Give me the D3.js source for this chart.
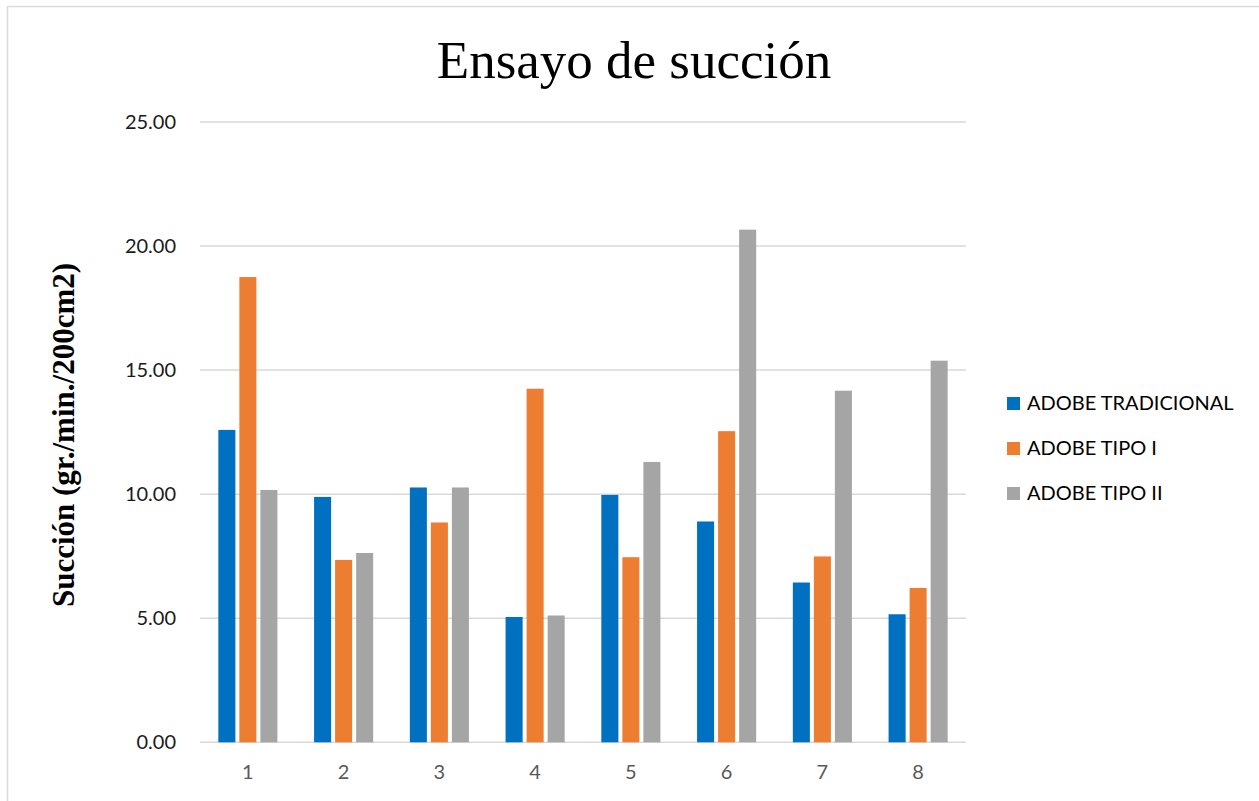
<!DOCTYPE html>
<html>
<head>
<meta charset="utf-8">
<script src="https://cdn.jsdelivr.net/npm/d3@7"></script>
<style>
  html, body { margin: 0; padding: 0; background: #fff; }
  svg { display: block; }
</style>
</head>
<body>
<svg id="chart" width="1259" height="801"></svg>
<script>
// Suction test results (gr./min./200cm2) per specimen
const categories = ["1", "2", "3", "4", "5", "6", "7", "8"];
const seriesNames = ["ADOBE TRADICIONAL", "ADOBE TIPO I", "ADOBE TIPO II"];
const adobeTradicional = [12.59, 9.89, 10.27, 5.05, 9.97, 8.90, 6.44, 5.16];
const adobeTipoI       = [18.75, 7.35, 8.86, 14.25, 7.46, 12.54, 7.49, 6.22];
const adobeTipoII      = [10.17, 7.63, 10.27, 5.11, 11.30, 20.66, 14.17, 15.38];
const yTicks = [0, 5, 10, 15, 20, 25];
const colors = ["#0070C0", "#ED7D31", "#A5A5A5"];

const seriesValues = [adobeTradicional, adobeTipoI, adobeTipoII];

const svg = d3.select("#chart");
const W = 1259, H = 801;

// chart frame
svg.append("rect")
  .attr("x", 7.5).attr("y", 6.5)
  .attr("width", W + 10).attr("height", H + 10)
  .attr("fill", "#fff")
  .attr("stroke", "#d9d9d9").attr("stroke-width", 1.5);

const plot = { left: 200, right: 966, top: 122, bottom: 742.3 };

const x = d3.scaleBand()
  .domain(categories)
  .range([plot.left, plot.right])
  .paddingInner(0.383)
  .paddingOuter(0.1915);

const xInner = d3.scaleBand()
  .domain(d3.range(seriesNames.length))
  .range([0, x.bandwidth()])
  .paddingInner(0.19)
  .paddingOuter(0);

const y = d3.scaleLinear()
  .domain([0, 25])
  .range([plot.bottom, plot.top]);

// horizontal gridlines
svg.append("g")
  .selectAll("line")
  .data(yTicks)
  .join("line")
  .attr("x1", plot.left).attr("x2", plot.right)
  .attr("y1", d => y(d)).attr("y2", d => y(d))
  .attr("stroke", "#d9d9d9").attr("stroke-width", 1.5);

// y axis labels
const yAxis = d3.axisLeft(y)
  .tickValues(yTicks)
  .tickFormat(d3.format(".2f"))
  .tickSize(0)
  .tickPadding(24);
const gy = svg.append("g")
  .attr("transform", `translate(${plot.left},0)`)
  .call(yAxis);
gy.select(".domain").remove();
gy.selectAll("text")
  .attr("font-family", "Lato, 'Open Sans', sans-serif")
  .attr("font-size", 20)
  .attr("fill", "#1a1a1a");

// x axis labels
const xAxis = d3.axisBottom(x).tickSize(0).tickPadding(23);
const gx = svg.append("g")
  .attr("transform", `translate(0,${plot.bottom})`)
  .call(xAxis);
gx.select(".domain").remove();
gx.selectAll("text")
  .attr("font-family", "Lato, 'Open Sans', sans-serif")
  .attr("font-size", 20)
  .attr("fill", "#595959");

// bars
const groups = svg.append("g")
  .selectAll("g")
  .data(categories)
  .join("g")
  .attr("transform", d => `translate(${x(d)},0)`);

groups.selectAll("rect")
  .data((d, i) => seriesValues.map((vals, s) => ({ s, v: vals[i] })))
  .join("rect")
  .attr("x", d => xInner(d.s))
  .attr("width", xInner.bandwidth())
  .attr("y", d => y(d.v))
  .attr("height", d => y(0) - y(d.v))
  .attr("fill", d => colors[d.s]);

// title
svg.append("text")
  .attr("x", 634).attr("y", 78)
  .attr("text-anchor", "middle")
  .attr("font-family", "'Liberation Serif', 'Times New Roman', serif")
  .attr("font-size", 53)
  .attr("fill", "#000")
  .text("Ensayo de succión");

// y axis title
svg.append("text")
  .attr("transform", "translate(74,435) rotate(-90)")
  .attr("text-anchor", "middle")
  .attr("font-family", "'Liberation Serif', 'Times New Roman', serif")
  .attr("font-weight", "bold")
  .attr("font-size", 31)
  .attr("fill", "#000")
  .text("Succión (gr./min./200cm2)");

// legend
const legend = svg.append("g")
  .selectAll("g")
  .data(seriesNames)
  .join("g")
  .attr("transform", (d, i) => `translate(1007,${403 + i * 45})`);
legend.append("rect")
  .attr("x", 0).attr("y", -6)
  .attr("width", 13).attr("height", 13)
  .attr("fill", (d, i) => colors[i]);
legend.append("text")
  .attr("x", 20).attr("y", 0)
  .attr("dy", "0.36em")
  .attr("font-family", "Lato, 'Open Sans', sans-serif")
  .attr("font-size", 20)
  .attr("fill", "#000")
  .text(d => d);
</script>
</body>
</html>
